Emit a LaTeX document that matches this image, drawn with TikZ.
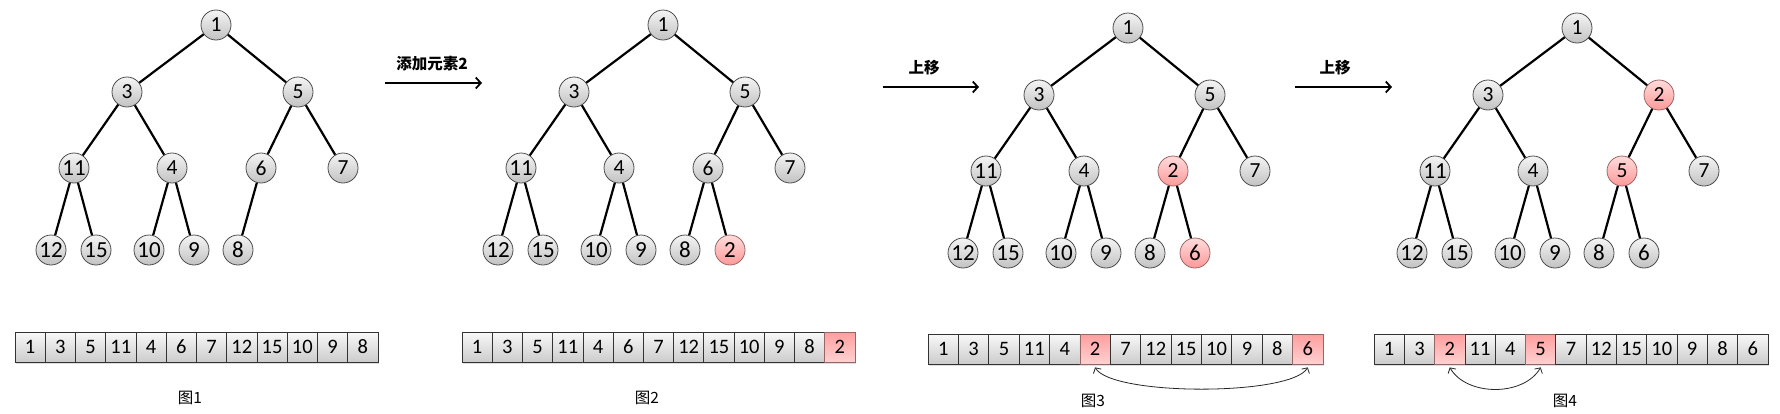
\documentclass[tikz,border=0pt]{standalone}
\usepackage{fontspec}
\setmainfont{Carlito}
\newfontfamily\cjk{Noto Sans CJK SC}
\usetikzlibrary{arrows.meta,shadows}
\begin{document}
\begin{tikzpicture}[x=1pt,y=-1pt,
  hn/.style={circle, draw=black!70, line width=0.8pt, minimum size=30pt, inner sep=0pt,
    top color=gray!8, bottom color=gray!48, font=\fontsize{21.5}{21.5}\selectfont},
  hnb/.style={hn, font=\fontsize{23}{23}\selectfont},
  hp/.style={hn, top color=red!14, bottom color=red!40, draw=red!35!black!60},
  hpb/.style={hp, font=\fontsize{23}{23}\selectfont},
  tedge/.style={line width=2.2pt, black},
  cellg/.style={rectangle, draw=black!80, line width=0.8pt, minimum height=30pt, inner sep=0pt,
    top color=gray!5, bottom color=gray!40, font=\fontsize{20.5}{20.5}\selectfont,
    drop shadow={shadow xshift=1pt, shadow yshift=-2pt, opacity=0.25}},
  cellp/.style={cellg, top color=red!38, bottom color=red!18, draw=red!30!black!60},
  steparrow/.style={line width=1.8pt, -{Straight Barb[length=5pt,width=11pt,line width=1.8pt]}},
  swaparc/.style={line width=0.8pt, black!85, {Straight Barb[length=4pt,width=9pt]}-{Straight Barb[length=4pt,width=9pt]}},
  steplabel/.style={font=\cjk\bfseries\fontsize{15.5}{15.5}\selectfont},
  caption/.style={font=\cjk\fontsize{15.5}{15.5}\selectfont}
]
\useasboundingbox (0,0) rectangle (1780,413);

% ---------------- Tree 1 ----------------
\begin{scope}[shift={(216,25)}]
\node[hn] (t1r) at (0,0) {1};
\node[hn] (t1L) at (-89,67) {3};
\node[hn] (t1R) at (82,67) {5};
\node[hnb] (t1LL) at (-142,143) {11};
\node[hn] (t1LR) at (-44,143) {4};
\node[hn] (t1RL) at (45,143) {6};
\node[hn] (t1RR) at (127,143) {7};
\node[hnb] (t1LLL) at (-165,225) {12};
\node[hnb] (t1LLR) at (-120,225) {15};
\node[hnb] (t1LRL) at (-67,225) {10};
\node[hnb] (t1LRR) at (-22,225) {9};
\node[hnb] (t1RLL) at (22,225) {8};
\end{scope}
\draw[tedge] (t1r) -- (t1L); \draw[tedge] (t1r) -- (t1R);
\draw[tedge] (t1L) -- (t1LL); \draw[tedge] (t1L) -- (t1LR);
\draw[tedge] (t1R) -- (t1RL); \draw[tedge] (t1R) -- (t1RR);
\draw[tedge] (t1LL) -- (t1LLL); \draw[tedge] (t1LL) -- (t1LLR);
\draw[tedge] (t1LR) -- (t1LRL); \draw[tedge] (t1LR) -- (t1LRR);
\draw[tedge] (t1RL) -- (t1RLL);

% ---------------- Tree 2 ----------------
\begin{scope}[shift={(663,25)}]
\node[hn] (t2r) at (0,0) {1};
\node[hn] (t2L) at (-89,67) {3};
\node[hn] (t2R) at (82,67) {5};
\node[hnb] (t2LL) at (-142,143) {11};
\node[hn] (t2LR) at (-44,143) {4};
\node[hn] (t2RL) at (45,143) {6};
\node[hn] (t2RR) at (127,143) {7};
\node[hnb] (t2LLL) at (-165,225) {12};
\node[hnb] (t2LLR) at (-120,225) {15};
\node[hnb] (t2LRL) at (-67,225) {10};
\node[hnb] (t2LRR) at (-22,225) {9};
\node[hnb] (t2RLL) at (22,225) {8};
\node[hpb] (t2RLR) at (67,225) {2};
\end{scope}
\draw[tedge] (t2r) -- (t2L); \draw[tedge] (t2r) -- (t2R);
\draw[tedge] (t2L) -- (t2LL); \draw[tedge] (t2L) -- (t2LR);
\draw[tedge] (t2R) -- (t2RL); \draw[tedge] (t2R) -- (t2RR);
\draw[tedge] (t2LL) -- (t2LLL); \draw[tedge] (t2LL) -- (t2LLR);
\draw[tedge] (t2LR) -- (t2LRL); \draw[tedge] (t2LR) -- (t2LRR);
\draw[tedge] (t2RL) -- (t2RLL); \draw[tedge] (t2RL) -- (t2RLR);

% ---------------- Tree 3 ----------------
\begin{scope}[shift={(1128,28)}]
\node[hn] (t3r) at (0,0) {1};
\node[hn] (t3L) at (-89,67) {3};
\node[hn] (t3R) at (82,67) {5};
\node[hnb] (t3LL) at (-142,143) {11};
\node[hn] (t3LR) at (-44,143) {4};
\node[hp] (t3RL) at (45,143) {2};
\node[hn] (t3RR) at (127,143) {7};
\node[hnb] (t3LLL) at (-165,225) {12};
\node[hnb] (t3LLR) at (-120,225) {15};
\node[hnb] (t3LRL) at (-67,225) {10};
\node[hnb] (t3LRR) at (-22,225) {9};
\node[hnb] (t3RLL) at (22,225) {8};
\node[hpb] (t3RLR) at (67,225) {6};
\end{scope}
\draw[tedge] (t3r) -- (t3L); \draw[tedge] (t3r) -- (t3R);
\draw[tedge] (t3L) -- (t3LL); \draw[tedge] (t3L) -- (t3LR);
\draw[tedge] (t3R) -- (t3RL); \draw[tedge] (t3R) -- (t3RR);
\draw[tedge] (t3LL) -- (t3LLL); \draw[tedge] (t3LL) -- (t3LLR);
\draw[tedge] (t3LR) -- (t3LRL); \draw[tedge] (t3LR) -- (t3LRR);
\draw[tedge] (t3RL) -- (t3RLL); \draw[tedge] (t3RL) -- (t3RLR);

% ---------------- Tree 4 ----------------
\begin{scope}[shift={(1577,28)}]
\node[hn] (t4r) at (0,0) {1};
\node[hn] (t4L) at (-89,67) {3};
\node[hp] (t4R) at (82,67) {2};
\node[hnb] (t4LL) at (-142,143) {11};
\node[hn] (t4LR) at (-44,143) {4};
\node[hp] (t4RL) at (45,143) {5};
\node[hn] (t4RR) at (127,143) {7};
\node[hnb] (t4LLL) at (-165,225) {12};
\node[hnb] (t4LLR) at (-120,225) {15};
\node[hnb] (t4LRL) at (-67,225) {10};
\node[hnb] (t4LRR) at (-22,225) {9};
\node[hnb] (t4RLL) at (22,225) {8};
\node[hnb] (t4RLR) at (67,225) {6};
\end{scope}
\draw[tedge] (t4r) -- (t4L); \draw[tedge] (t4r) -- (t4R);
\draw[tedge] (t4L) -- (t4LL); \draw[tedge] (t4L) -- (t4LR);
\draw[tedge] (t4R) -- (t4RL); \draw[tedge] (t4R) -- (t4RR);
\draw[tedge] (t4LL) -- (t4LLL); \draw[tedge] (t4LL) -- (t4LLR);
\draw[tedge] (t4LR) -- (t4LRL); \draw[tedge] (t4LR) -- (t4LRR);
\draw[tedge] (t4RL) -- (t4RLL); \draw[tedge] (t4RL) -- (t4RLR);

% ---------------- Step arrows ----------------
\coordinate (s1a) at (385,83); \coordinate (s1b) at (482,83);
\draw[steparrow] (s1a) -- (s1b);
\node[steplabel] (l1) at (432,64) {添加元素2};
\coordinate (s2a) at (883,87); \coordinate (s2b) at (979,87);
\draw[steparrow] (s2a) -- (s2b);
\node[steplabel] (l2) at (924,68) {上移};
\coordinate (s3a) at (1295,87); \coordinate (s3b) at (1392,87);
\draw[steparrow] (s3a) -- (s3b);
\node[steplabel] (l3) at (1335,68) {上移};

% ---------------- Arrays ----------------
\foreach \v/\s [count=\i] in {1/cellg,3/cellg,5/cellg,11/cellg,4/cellg,6/cellg,7/cellg,12/cellg,15/cellg,10/cellg,9/cellg,8/cellg}
  \node[\s, minimum width=30.25pt] (a1c\i) at ({15+30.25*(\i-0.5)},347) {\v};
\foreach \v/\s [count=\i] in {1/cellg,3/cellg,5/cellg,11/cellg,4/cellg,6/cellg,7/cellg,12/cellg,15/cellg,10/cellg,9/cellg,8/cellg,2/cellp}
  \node[\s, minimum width=30.23pt] (a2c\i) at ({462+30.23*(\i-0.5)},347) {\v};
\foreach \v/\s [count=\i] in {1/cellg,3/cellg,5/cellg,11/cellg,4/cellg,2/cellp,7/cellg,12/cellg,15/cellg,10/cellg,9/cellg,8/cellg,6/cellp}
  \node[\s, minimum width=30.38pt] (a3c\i) at ({928+30.38*(\i-0.5)},349) {\v};
\foreach \v/\s [count=\i] in {1/cellg,3/cellg,2/cellp,11/cellg,4/cellg,5/cellp,7/cellg,12/cellg,15/cellg,10/cellg,9/cellg,8/cellg,6/cellg}
  \node[\s, minimum width=30.3pt] (a4c\i) at ({1374+30.3*(\i-0.5)},349) {\v};

% swap arcs
\draw[swaparc] ([yshift=-3pt]a3c6.south) to[out=-60,in=-120,looseness=0.4] ([yshift=-3pt]a3c13.south);
\draw[swaparc] ([yshift=-3pt]a4c3.south) to[out=-60,in=-120,looseness=0.95] ([yshift=-3pt]a4c6.south);

% captions
\node[caption] (c1) at (190,398) {图1};
\node[caption] (c2) at (647,398) {图2};
\node[caption] (c3) at (1093,401) {图3};
\node[caption] (c4) at (1565,401) {图4};
\end{tikzpicture}
\end{document}
